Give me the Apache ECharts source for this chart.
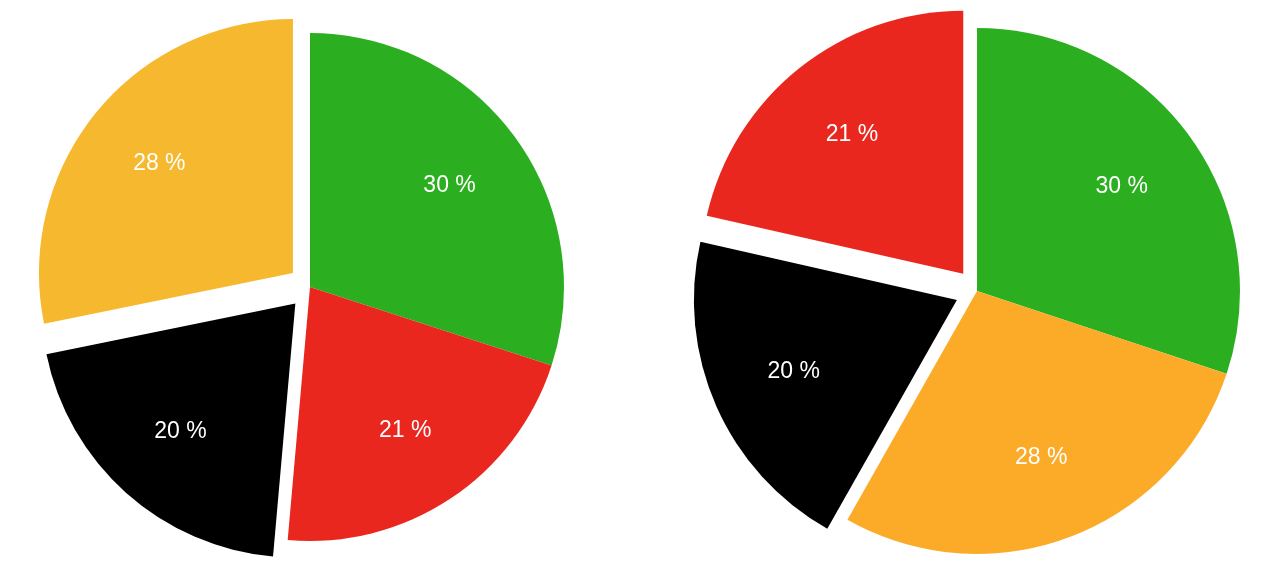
<!DOCTYPE html>
<html>
<head>
<meta charset="utf-8">
<script src="https://cdn.jsdelivr.net/npm/echarts@6/dist/echarts.min.js"></script>
<style>html,body{margin:0;padding:0;background:#fff;}#c{width:1278px;height:570px;}</style>
</head>
<body>
<div id="c"></div>
<script>
// Left pie (clockwise from top)
const leftNames = ['Green', 'Red', 'Black', 'Yellow'];
const leftValues = [30.0, 21.4, 20.4, 28.2];
const leftColors = ['#2baf20', '#e9271f', '#000000', '#f6b82e'];
const leftExploded = [false, false, true, true];

// Right pie (clockwise from top)
const rightNames = ['Green', 'Orange', 'Black', 'Red'];
const rightValues = [30.1, 28.1, 20.35, 21.45];
const rightColors = ['#2baf20', '#fcab29', '#000000', '#e9271f'];
const rightExploded = [false, false, true, true];

function makeData(names, values, colors, exploded, transparent) {
  return names.map((n, i) => ({
    name: n,
    value: values[i],
    selected: exploded[i],
    itemStyle: { color: transparent ? 'rgba(0,0,0,0)' : colors[i] }
  }));
}

const fmt = p => Math.round(p.percent) + ' %';

function pieSeries(center, r, names, values, colors, exploded) {
  return [
    {
      type: 'pie', center: center, radius: [0, r], startAngle: 90, clockwise: true,
      selectedMode: 'multiple', selectedOffset: 22, animation: false, silent: true,
      label: { show: false }, labelLine: { show: false },
      emphasis: { disabled: true },
      data: makeData(names, values, colors, exploded, false)
    },
    {
      type: 'pie', center: center, radius: [Math.round(r / 3), r], startAngle: 90, clockwise: true,
      selectedMode: 'multiple', selectedOffset: 22, animation: false, silent: true,
      label: { show: true, position: 'inside', formatter: fmt, color: '#ffffff',
               fontSize: 23, fontFamily: 'Liberation Sans, Arial, sans-serif' },
      labelLine: { show: false },
      emphasis: { disabled: true },
      data: makeData(names, values, colors, exploded, true)
    }
  ];
}

const chart = echarts.init(document.getElementById('c'), null, { renderer: 'canvas' });
chart.setOption({
  backgroundColor: '#ffffff',
  animation: false,
  series: [
    ...pieSeries([310, 287], 254, leftNames, leftValues, leftColors, leftExploded),
    ...pieSeries([977, 291], 263, rightNames, rightValues, rightColors, rightExploded)
  ]
});
</script>
</body>
</html>
